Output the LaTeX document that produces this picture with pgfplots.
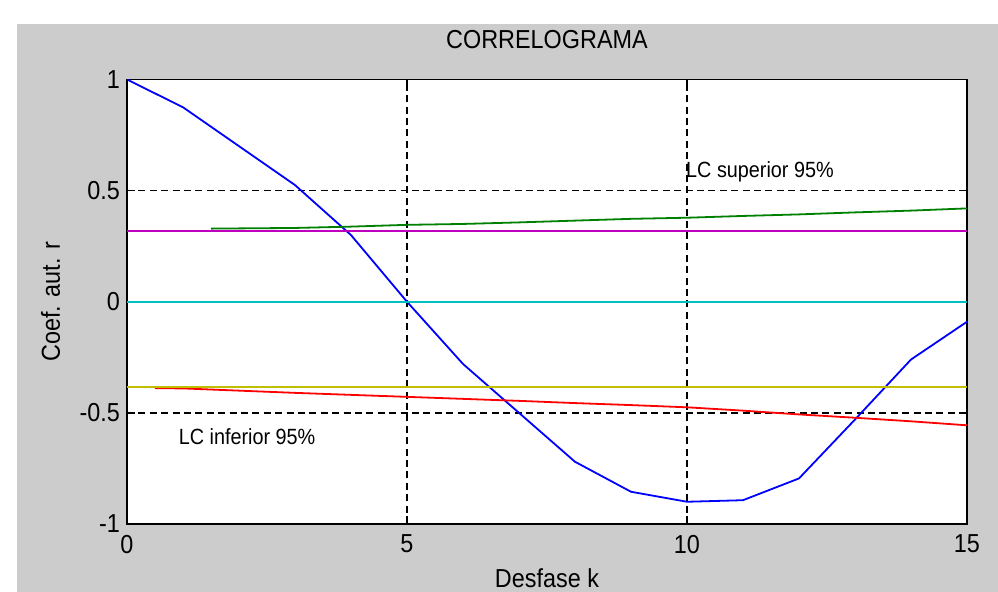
\documentclass[border=0pt]{standalone}
\usepackage{fontspec}
\setmainfont[FakeStretch=0.9]{Liberation Sans}
\usepackage{pgfplots}
\pgfplotsset{compat=1.18}
\definecolor{mgray}{RGB}{204,204,204}
\definecolor{mblue}{rgb}{0,0,1}
\definecolor{mgreen}{rgb}{0,0.5,0}
\definecolor{mred}{rgb}{1,0,0}
\definecolor{mcyan}{rgb}{0,0.75,0.75}
\definecolor{mmag}{rgb}{0.75,0,0.75}
\definecolor{myel}{rgb}{0.75,0.75,0}
\begin{document}
\begin{tikzpicture}
\path[use as bounding box, fill=white] (0,0) rectangle (499pt,296pt);
\fill[mgray] (8.5pt,0) rectangle (499pt,284pt);
\begin{axis}[
  at={(63.5pt,34pt)}, anchor=south west,
  scale only axis, width=420pt, height=222.25pt,
  xmin=0, xmax=15, ymin=-1, ymax=1,
  axis background/.style={fill=white},
  xtick={0,5,10,15}, ytick={-1,-0.5,0,0.5,1},
  xticklabels={0,5,10,15}, yticklabels={-1,-0.5,0,0.5,1},
  tick align=inside, major tick length=4pt,
  tick style={black, line width=0.8pt},
  axis line style={black, line width=0.9pt},
  extra x ticks={5,10}, extra x tick labels={},
  extra y ticks={-0.5,0.5}, extra y tick labels={},
  extra tick style={grid=major, major tick length=0pt},
  grid style={black, dash pattern=on 3.5pt off 2.2pt, line width=0.75pt},
  ticklabel style={font=\fontsize{13}{15}\selectfont},
  xticklabel style={yshift=-2pt},
  title={CORRELOGRAMA},
  title style={at={(0.5,1)}, anchor=base, yshift=9.5pt, font=\fontsize{13}{15}\selectfont},
  xlabel={Desfase k},
  xlabel style={at={(0.5,-0.144)}, anchor=base, font=\fontsize{13}{15}\selectfont},
  ylabel={Coef. aut. r},
  ylabel style={at={(-0.0798,0.5)}, anchor=base, font=\fontsize{13}{15}\selectfont},
]
\addplot[mblue, line width=0.9pt] coordinates {
(0,1.0) (1,0.875) (2,0.70) (3,0.525) (4,0.30) (5,0.0) (6,-0.28) (7,-0.50)
(8,-0.72) (9,-0.855) (10,-0.90) (11,-0.893) (12,-0.795) (13,-0.53) (14,-0.26) (15,-0.09)};
\addplot[mgreen, line width=0.9pt] coordinates {
(1.5,0.329) (2,0.330) (3,0.332) (4,0.338) (5,0.346) (6,0.350) (7,0.357) (8,0.365)
(9,0.373) (10,0.378) (11,0.386) (12,0.393) (13,0.402) (14,0.410) (15,0.420)};
\addplot[mred, line width=0.9pt] coordinates {
(0.5,-0.389) (1,-0.390) (2,-0.400) (3,-0.410) (4,-0.419) (5,-0.428) (6,-0.437)
(7,-0.446) (8,-0.456) (9,-0.465) (10,-0.475) (11,-0.490) (12,-0.507) (13,-0.522)
(14,-0.538) (15,-0.556)};
\addplot[mcyan, line width=0.9pt] coordinates {(0,0) (15,0)};
\addplot[mmag, line width=0.9pt] coordinates {(0,0.32) (15,0.32)};
\addplot[myel, line width=0.9pt] coordinates {(0,-0.382) (15,-0.382)};
\node[anchor=base west, font=\fontsize{11}{13}\selectfont] at (axis cs:9.86,0.557) {LC superior 95\%};
\node[anchor=base west, font=\fontsize{11}{13}\selectfont] at (axis cs:0.8,-0.641) {LC inferior 95\%};
\end{axis}
\end{tikzpicture}
\end{document}
